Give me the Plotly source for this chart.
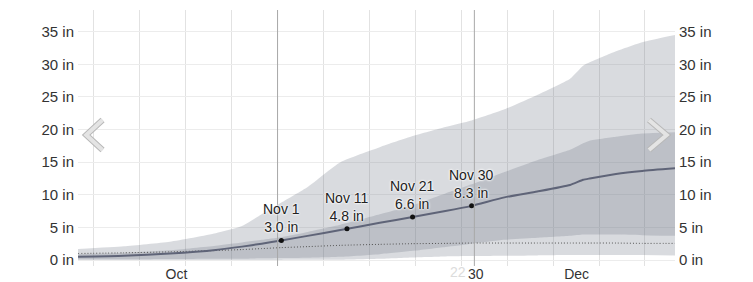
import plotly.graph_objects as go
from datetime import datetime

# ---- data ----
dates = ["2023-10-01", "2023-10-08", "2023-10-15", "2023-10-22", "2023-10-26", "2023-10-29",
         "2023-11-01", "2023-11-05", "2023-11-10", "2023-11-16", "2023-11-21", "2023-11-26",
         "2023-11-30", "2023-12-05", "2023-12-10", "2023-12-15", "2023-12-17", "2023-12-18",
         "2023-12-22", "2023-12-26", "2023-12-31"]
median = [0.5, 0.65, 1.0, 1.55, 2.05, 2.5, 3.0, 3.7, 4.6, 5.7, 6.6, 7.5, 8.3, 9.6, 10.5,
          11.5, 12.3, 12.5, 13.2, 13.65, 14.05]
p75 = [0.9, 1.1, 1.5, 2.2, 2.7, 3.1, 3.5, 4.3, 5.4, 7.0, 8.4, 10.2, 11.6, 13.5, 15.3,
       16.9, 17.9, 18.3, 18.9, 19.4, 19.6]
p25 = [0.1, 0.1, 0.15, 0.2, 0.2, 0.25, 0.3, 0.35, 0.5, 0.9, 1.4, 2.0, 2.5, 3.1, 3.4,
       3.7, 3.9, 3.9, 3.9, 3.8, 3.7]
p90 = [1.7, 2.1, 2.8, 4.1, 5.2, 7.0, 8.8, 11.2, 15.0, 17.3, 19.0, 20.4, 21.4, 23.1, 25.3,
       27.8, 29.8, 30.3, 32.0, 33.4, 34.5]
p10 = [0.0, 0.0, 0.0, 0.0, 0.0, 0.0, 0.0, 0.02, 0.05, 0.2, 0.4, 0.55, 0.6, 0.65, 0.7,
       0.75, 0.75, 0.75, 0.75, 0.75, 0.7]
normal = [1.0, 1.1, 1.25, 1.45, 1.6, 1.75, 1.9, 2.05, 2.25, 2.4, 2.5, 2.55, 2.6, 2.6, 2.6,
          2.6, 2.6, 2.6, 2.6, 2.55, 2.55]

hl_dates = ["2023-11-01", "2023-11-11", "2023-11-21", "2023-11-30"]
hl_values = [3.0, 4.8, 6.6, 8.3]

ref_lines = ["2023-10-31 10:00", "2023-11-30 10:00"]
x_tickvals = ["2023-10-16", "2023-11-30 15:00", "2023-12-16"]
x_ticktext = ["Oct", "30", "Dec"]
faded_label_date = "2023-11-27 22:00"
faded_label_text = "22"
y_ticks = [0, 5, 10, 15, 20, 25, 30, 35]
y_ticktext = [f"{v} in" for v in y_ticks]

FONT = "Liberation Sans, Arial, sans-serif"
BAND = "rgba(110,114,130,0.26)"
LINE = "#5f6478"

fig = go.Figure()
spline = dict(shape="spline", smoothing=0.5)
fig.add_trace(go.Scatter(x=dates, y=p10, mode="lines", line=dict(width=0, **spline),
                         hoverinfo="skip", showlegend=False))
fig.add_trace(go.Scatter(x=dates, y=p90, mode="lines", line=dict(width=0, **spline),
                         fill="tonexty", fillcolor=BAND, hoverinfo="skip", showlegend=False))
fig.add_trace(go.Scatter(x=dates, y=p25, mode="lines", line=dict(width=0, **spline),
                         hoverinfo="skip", showlegend=False))
fig.add_trace(go.Scatter(x=dates, y=p75, mode="lines", line=dict(width=0, **spline),
                         fill="tonexty", fillcolor=BAND, hoverinfo="skip", showlegend=False))
fig.add_trace(go.Scatter(x=dates, y=normal, mode="lines",
                         line=dict(width=1, color="#555", dash="1px,2px", **spline),
                         showlegend=False))
fig.add_trace(go.Scatter(x=dates, y=median, mode="lines",
                         line=dict(width=2, color=LINE, **spline), showlegend=False))
fig.add_trace(go.Scatter(x=hl_dates, y=hl_values, mode="markers",
                         marker=dict(size=5, color="#111"), showlegend=False))
# invisible trace for the right axis
fig.add_trace(go.Scatter(x=dates[:1], y=[0], yaxis="y2", mode="markers",
                         marker=dict(opacity=0), hoverinfo="skip", showlegend=False))

for d in ref_lines:
    fig.add_shape(type="line", x0=d, x1=d, yref="paper", y0=0, y1=1,
                  line=dict(color="#a8a8a8", width=1), layer="above")

for d, v in zip(hl_dates, hl_values):
    dt = datetime.strptime(d, "%Y-%m-%d")
    fig.add_annotation(x=d, y=v, text=f"{dt:%b} {dt.day}<br>{v:.1f} in", showarrow=False,
                       yanchor="bottom", yshift=3,
                       font=dict(family=FONT, size=14, color="#222",
                                 shadow="0 0 2px #fff, 0 0 2px #fff, 0 0 3px #fff"))

fig.add_annotation(x=faded_label_date, y=0, yref="paper", yanchor="top", yshift=4,
                   text=faded_label_text, showarrow=False,
                   font=dict(family=FONT, size=14, color="#dcdcdc"))

# navigation chevrons
def chevron(pts):
    return "M" + " L".join(f"{x},{y}" for x, y in pts)

left = [(0.0411, 0.5703), (0.0138, 0.5117), (0.0411, 0.4531)]
right = [(0.9564, 0.5703), (0.9861, 0.5117), (0.9564, 0.4531)]
for pts in (left, right):
    fig.add_shape(type="path", xref="paper", yref="paper", path=chevron(pts),
                  line=dict(color="#b8b8b8", width=6), layer="above")
    fig.add_shape(type="path", xref="paper", yref="paper", path=chevron(pts),
                  line=dict(color="#e4e4e4", width=4), layer="above")

fig.update_layout(
    width=753, height=282,
    margin=dict(l=78, r=78, t=10, b=16, autoexpand=False),
    paper_bgcolor="white", plot_bgcolor="white",
    font=dict(family=FONT, size=15, color="#333"),
    showlegend=False,
    hovermode=False,
    xaxis=dict(type="date", range=["2023-10-01", "2023-12-31"], automargin=False,
               tickvals=x_tickvals, ticktext=x_ticktext, showgrid=False,
               tickfont=dict(size=14), ticks="", zeroline=False, showline=False,
               ticklabelstandoff=-2,
               minor=dict(showgrid=True, gridcolor="#e2e2e2", gridwidth=1,
                          tick0="2023-10-03 10:00", dtick=7 * 86400000)),
    yaxis=dict(range=[-0.92, 38.33], tickvals=y_ticks, ticktext=y_ticktext,
               gridcolor="#ececec", zeroline=False, showline=False, ticks="",
               automargin=False, ticklabelstandoff=3),
    yaxis2=dict(range=[-0.92, 38.33], tickvals=y_ticks, ticktext=y_ticktext,
                overlaying="y", side="right", showgrid=False, zeroline=False,
                automargin=False, showline=False, ticks="", ticklabelstandoff=3),
)

fig.write_html("out.html")
